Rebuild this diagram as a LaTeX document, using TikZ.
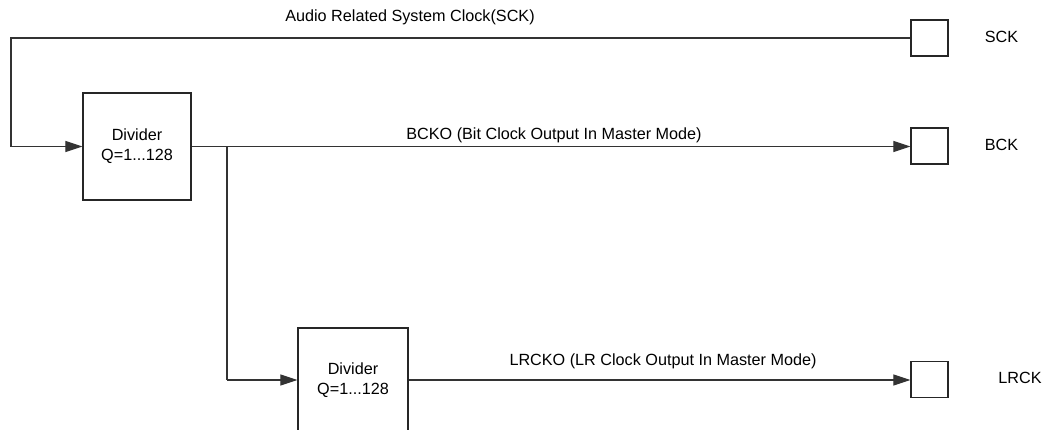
\documentclass[tikz,border=0pt]{standalone}
\usepackage{fontspec}
\setmainfont{Liberation Sans}
\usetikzlibrary{arrows.meta}
\begin{document}
\begin{tikzpicture}[x=1pt,y=-1pt,
  every node/.style={font=\fontsize{16.2}{20}\selectfont, inner sep=0pt},
  divbox/.style={draw=black!85, line width=1.2pt, minimum width=108pt, align=center},
  pin/.style={draw=black!85, line width=1.2pt, minimum width=37pt, minimum height=36pt},
  wire/.style={draw=black!80, line width=1.1pt},
  arr/.style={wire, -{Triangle[length=17pt,width=11pt]}},
  lbl/.style={text=black}]
\clip (0,0) rectangle (1044,429);
\useasboundingbox (0,0) rectangle (1044,429);
% nodes
\node[divbox, minimum height=107pt] (div1) at (137,146.5) {Divider\\Q=1...128};
\node[divbox, minimum width=110pt, minimum height=104pt] (div2) at (353,380) {Divider\\Q=1...128};
\node[pin] (sck) at (929.5,38) {};
\node[pin] (bck) at (929.5,146) {};
\node[pin] (lrck) at (929.5,379.5) {};
% labels
\node[lbl] (tsck) at (1001.5,37) {SCK};
\node[lbl] (tbck) at (1001.5,145) {BCK};
\node[lbl] (tlrck) at (1020,378) {LRCK};
\node[lbl] (tsys) at (410,17) {Audio Related System Clock(SCK)};
\node[lbl] (tbcko) at (554,135) {BCKO (Bit Clock Output In Master Mode)};
\node[lbl] (tlrcko) at (663,361) {LRCKO (LR Clock Output In Master Mode)};
% coordinates
\coordinate (c1) at (11,38);
\coordinate (c2) at (11,146.5);
\coordinate (br) at (227,146.5);
\coordinate (c3) at (227,380);
% connectors
\draw[arr] (sck.west) -- (c1) -- (c2) -- (div1.west);
\draw[arr] (div1.east) -- (div1.east -| bck.west);
\draw[wire] (br) -- (c3);
\draw[arr] (c3) -- (div2.west);
\draw[arr] (div2.east) -- (div2.east -| lrck.west);
\end{tikzpicture}
\end{document}
